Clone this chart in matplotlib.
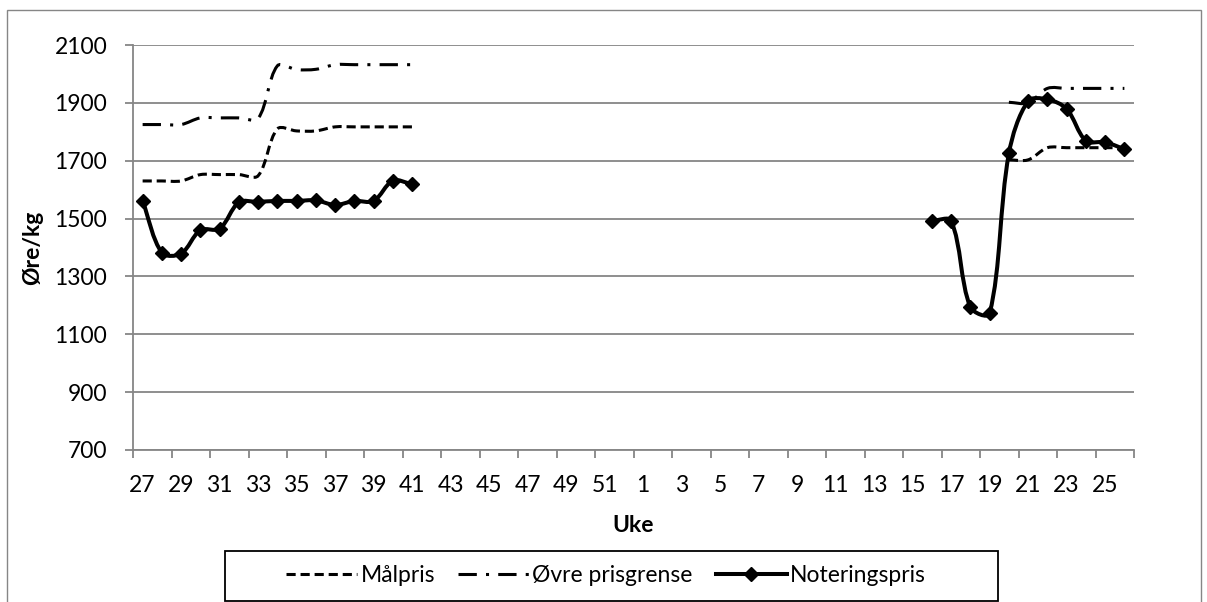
import numpy as np
import matplotlib.pyplot as plt
from matplotlib.path import Path
from matplotlib.patches import PathPatch, Rectangle
from matplotlib.lines import Line2D

plt.rcParams['font.family'] = ['Lato', 'DejaVu Sans']

# weeks 27-52, then 1-26
weeks = list(range(27, 53)) + list(range(1, 27))
N = None

# Målpris (øre/kg)
malpris = [1630, 1630, 1630, 1652, 1652, 1652, 1648, 1810, 1803, 1803, 1817, 1817, 1817, 1817, 1817] \
    + [N] * 30 + [1703, 1703, 1745, 1745, 1745, 1745, 1745]
# Øvre prisgrense
ovre = [1825, 1825, 1825, 1848, 1848, 1848, 1846, 2028, 2015, 2016, 2032, 2032, 2032, 2032, 2032] \
    + [N] * 30 + [1902, 1900, 1950, 1950, 1950, 1950, 1950]
# Noteringspris
notering = [1561, 1382, 1379, 1460, 1465, 1556, 1558, 1561, 1561, 1563, 1547, 1561, 1561, 1631, 1619] \
    + [N] * 26 + [1492, 1492, 1194, 1172, 1725, 1906, 1912, 1879, 1769, 1764, 1740]


def as_array(vals):
    return np.array([np.nan if v is None else v for v in vals], dtype=float)


def smooth_paths(ax, x, y):
    # Excel-like smoothed line: cubic bezier, tangents weighted by screen chord lengths
    sx, sy = np.abs(ax.transData.transform([(1, 1)]) - ax.transData.transform([(0, 0)]))[0]
    paths = []
    ok = ~np.isnan(y)
    i = 0
    while i < len(y):
        if not ok[i]:
            i += 1
            continue
        j = i
        while j + 1 < len(y) and ok[j + 1]:
            j += 1
        P = np.column_stack([x[i:j + 1], y[i:j + 1]])
        n = len(P)
        d = np.hypot(np.diff(P[:, 0]) * sx, np.diff(P[:, 1]) * sy)
        outc, inc = [], []
        for k in range(n):
            a = P[k - 1] if k > 0 else P[k]
            b = P[k + 1] if k < n - 1 else P[k]
            din = d[k - 1] if k > 0 else 0.0
            dout = d[k] if k < n - 1 else 0.0
            tot = din + dout if din + dout > 0 else 1.0
            T = b - a
            outc.append(P[k] + T * dout / tot / 3)
            inc.append(P[k] - T * din / tot / 3)
        verts = [tuple(P[0])]
        codes = [Path.MOVETO]
        for k in range(n - 1):
            verts += [tuple(outc[k]), tuple(inc[k + 1]), tuple(P[k + 1])]
            codes += [Path.CURVE4] * 3
        paths.append(Path(verts, codes))
        i = j + 1
    return paths


x = np.arange(len(weeks))
W, H = 1207, 602
fig = plt.figure(figsize=(W / 100, H / 100), dpi=100)
ax = fig.add_axes([133 / W, 1 - 450 / H, 1001 / W, 405 / H])
ax.set_xlim(-0.5, len(weeks) - 0.5)
ax.set_ylim(700, 2100)

grey = '#868686'
dash_mal = (0, (3.0, 1.6))
dash_ovre = (0, (6.0, 3.0, 1.0, 3.0))

series = [
    (malpris, dash_mal, 2.2),
    (ovre, dash_ovre, 2.2),
    (notering, '-', 2.9),
]
for vals, ls, lw in series:
    for p in smooth_paths(ax, x, as_array(vals)):
        ax.add_patch(PathPatch(p, fill=False, edgecolor='black', lw=lw,
                               linestyle=ls, capstyle='butt', zorder=3))

ax.plot(x, as_array(notering), ls='none', marker='D', ms=7, color='black', zorder=4)

ax.set_yticks(range(700, 2101, 200))
ax.yaxis.grid(True, color=grey, lw=1.3)
ax.set_axisbelow(True)

ax.set_xticks(np.arange(-0.5, len(weeks), 2))
ax.set_xticklabels([])
ax.set_xticks(x[::2], minor=True)
ax.set_xticklabels([str(w) for w in weeks[::2]], minor=True)
ax.tick_params(axis='x', which='major', direction='out', length=6, width=1.3, color=grey)
ax.tick_params(axis='x', which='minor', length=0, pad=18, labelsize=16.5)
ax.tick_params(axis='y', direction='out', length=6, width=1.3, color=grey, pad=12.5, labelsize=16.5)

for s in ['top', 'right']:
    ax.spines[s].set_visible(False)
for s in ['left', 'bottom']:
    ax.spines[s].set_color(grey)
    ax.spines[s].set_linewidth(1.3)

ax.set_xlabel('Uke', fontsize=16.5, fontweight='bold')
ax.xaxis.label.set_va('center')
ax.xaxis.set_label_coords(0.5, (450 - 526) / 405)
ax.set_ylabel('Øre/kg', fontsize=16.5, fontweight='bold')
ax.yaxis.label.set_va('center')
ax.yaxis.set_label_coords((33 - 133) / 1001, 0.5)

handles = [
    Line2D([], [], color='black', lw=2.2, ls=dash_mal, dash_capstyle='butt'),
    Line2D([], [], color='black', lw=2.2, ls=dash_ovre, dash_capstyle='butt'),
    Line2D([], [], color='black', lw=2.9, marker='D', ms=7),
]
fig.legend(handles, ['Målpris', 'Øvre prisgrense', 'Noteringspris'], ncol=3,
           loc='center', bbox_to_anchor=(606 / W, 1 - 576 / H), frameon=False,
           fontsize=16.5, handlelength=3.1, handletextpad=0.15, columnspacing=1.0)
fig.add_artist(Rectangle((225 / W, 1 - 601 / H), 773 / W, 50 / H, transform=fig.transFigure,
                         fill=False, edgecolor='black', lw=1.3))
fig.add_artist(Rectangle((7 / W, -0.02), (1201 - 7) / W, 1 - 10 / H + 0.02,
                         transform=fig.transFigure, fill=False, edgecolor=grey, lw=1))

fig.savefig('out.png', dpi=100)
